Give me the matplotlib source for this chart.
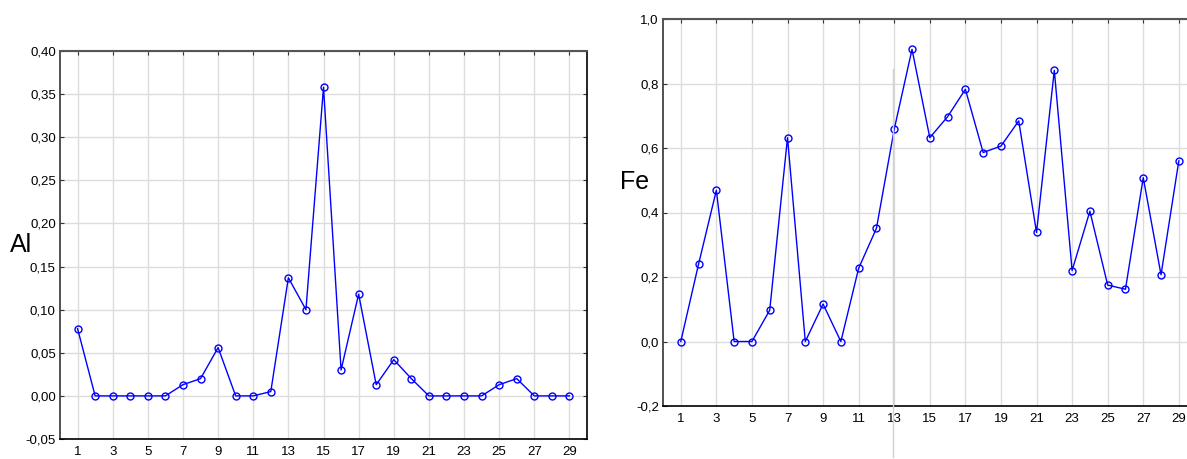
import matplotlib
matplotlib.use("Agg")
import matplotlib.pyplot as plt
from matplotlib.lines import Line2D

plt.rcParams['font.family'] = ['Liberation Sans', 'DejaVu Sans']

x_idx = list(range(1, 30))
al_values = [0.078, 0, 0, 0, 0, 0, 0.013, 0.020, 0.056, 0, 0, 0.005, 0.137, 0.100,
             0.358, 0.030, 0.118, 0.013, 0.042, 0.020, 0, 0, 0, 0, 0.013, 0.020, 0, 0, 0]
fe_values = [0.0, 0.240, 0.469, 0.0, 0.0, 0.097, 0.632, 0.0, 0.116, 0.0, 0.227, 0.351,
             0.658, 0.906, 0.632, 0.697, 0.782, 0.586, 0.606, 0.684, 0.338, 0.841,
             0.220, 0.404, 0.175, 0.162, 0.508, 0.207, 0.560]
x_ticks = list(range(1, 30, 2))
al_yticks = [-0.05, 0.0, 0.05, 0.10, 0.15, 0.20, 0.25, 0.30, 0.35, 0.40]
al_yticklabels = ['-0,05', '0,00', '0,05', '0,10', '0,15', '0,20', '0,25', '0,30', '0,35', '0,40']
fe_yticks = [-0.2, 0.0, 0.2, 0.4, 0.6, 0.8, 1.0]
fe_yticklabels = ['-0,2', '0,0', '0,2', '0,4', '0,6', '0,8', '1,0']

W, H = 1187, 459
fig = plt.figure(figsize=(W / 100, H / 100), dpi=100)

ax1 = fig.add_axes([60 / W, 20 / H, 527 / W, 388 / H])
ax2 = fig.add_axes([663 / W, 53 / H, 533.6 / W, 387 / H])


def style(ax, yt, ytl, ylim):
    ax.set_xlim(0, 30)
    ax.set_ylim(*ylim)
    ax.set_xticks(x_ticks)
    ax.set_xticklabels([str(v) for v in x_ticks])
    ax.set_yticks(yt)
    ax.set_yticklabels(ytl)
    ax.grid(True, color='#dcdcdc', linewidth=1.0)
    ax.set_axisbelow(True)
    for s in ['left', 'bottom', 'right']:
        ax.spines[s].set_color('black')
        ax.spines[s].set_linewidth(1.2)
    ax.spines['left'].set_color('#333333')
    ax.spines['top'].set_color('#555555')
    ax.spines['top'].set_linewidth(1.5)
    ax.tick_params(axis='x', which='both', bottom=False, top=True, direction='in',
                   length=3, labelsize=9.5, pad=5, color='#333333')
    ax.tick_params(axis='y', which='both', left=True, right=True, direction='in',
                   length=3, labelsize=9.5, pad=3, color='#333333')


ax1.plot(x_idx, al_values, color='#0000ff', linewidth=1.0, marker='o', markersize=5,
         markerfacecolor='none', markeredgecolor='#0000ff', markeredgewidth=1.0)
style(ax1, al_yticks, al_yticklabels, (-0.05, 0.40))

ax2.plot(x_idx, fe_values, color='#0000ff', linewidth=1.0, marker='o', markersize=5,
         markerfacecolor='none', markeredgecolor='#0000ff', markeredgewidth=1.0)
style(ax2, fe_yticks, fe_yticklabels, (-0.2, 1.0))

fig.text(10 / W, 1 - 245 / H, 'Al', fontsize=18, ha='left', va='center')
fig.text(620 / W, 1 - 182 / H, 'Fe', fontsize=18, ha='left', va='center')

fig.add_artist(Line2D([892.7 / W, 892.7 / W], [1 - 69 / H, 1 - 457 / H],
                      transform=fig.transFigure, color='#d0d0d0', linewidth=1.0))

fig.savefig('out.png', dpi=100, facecolor='white')
